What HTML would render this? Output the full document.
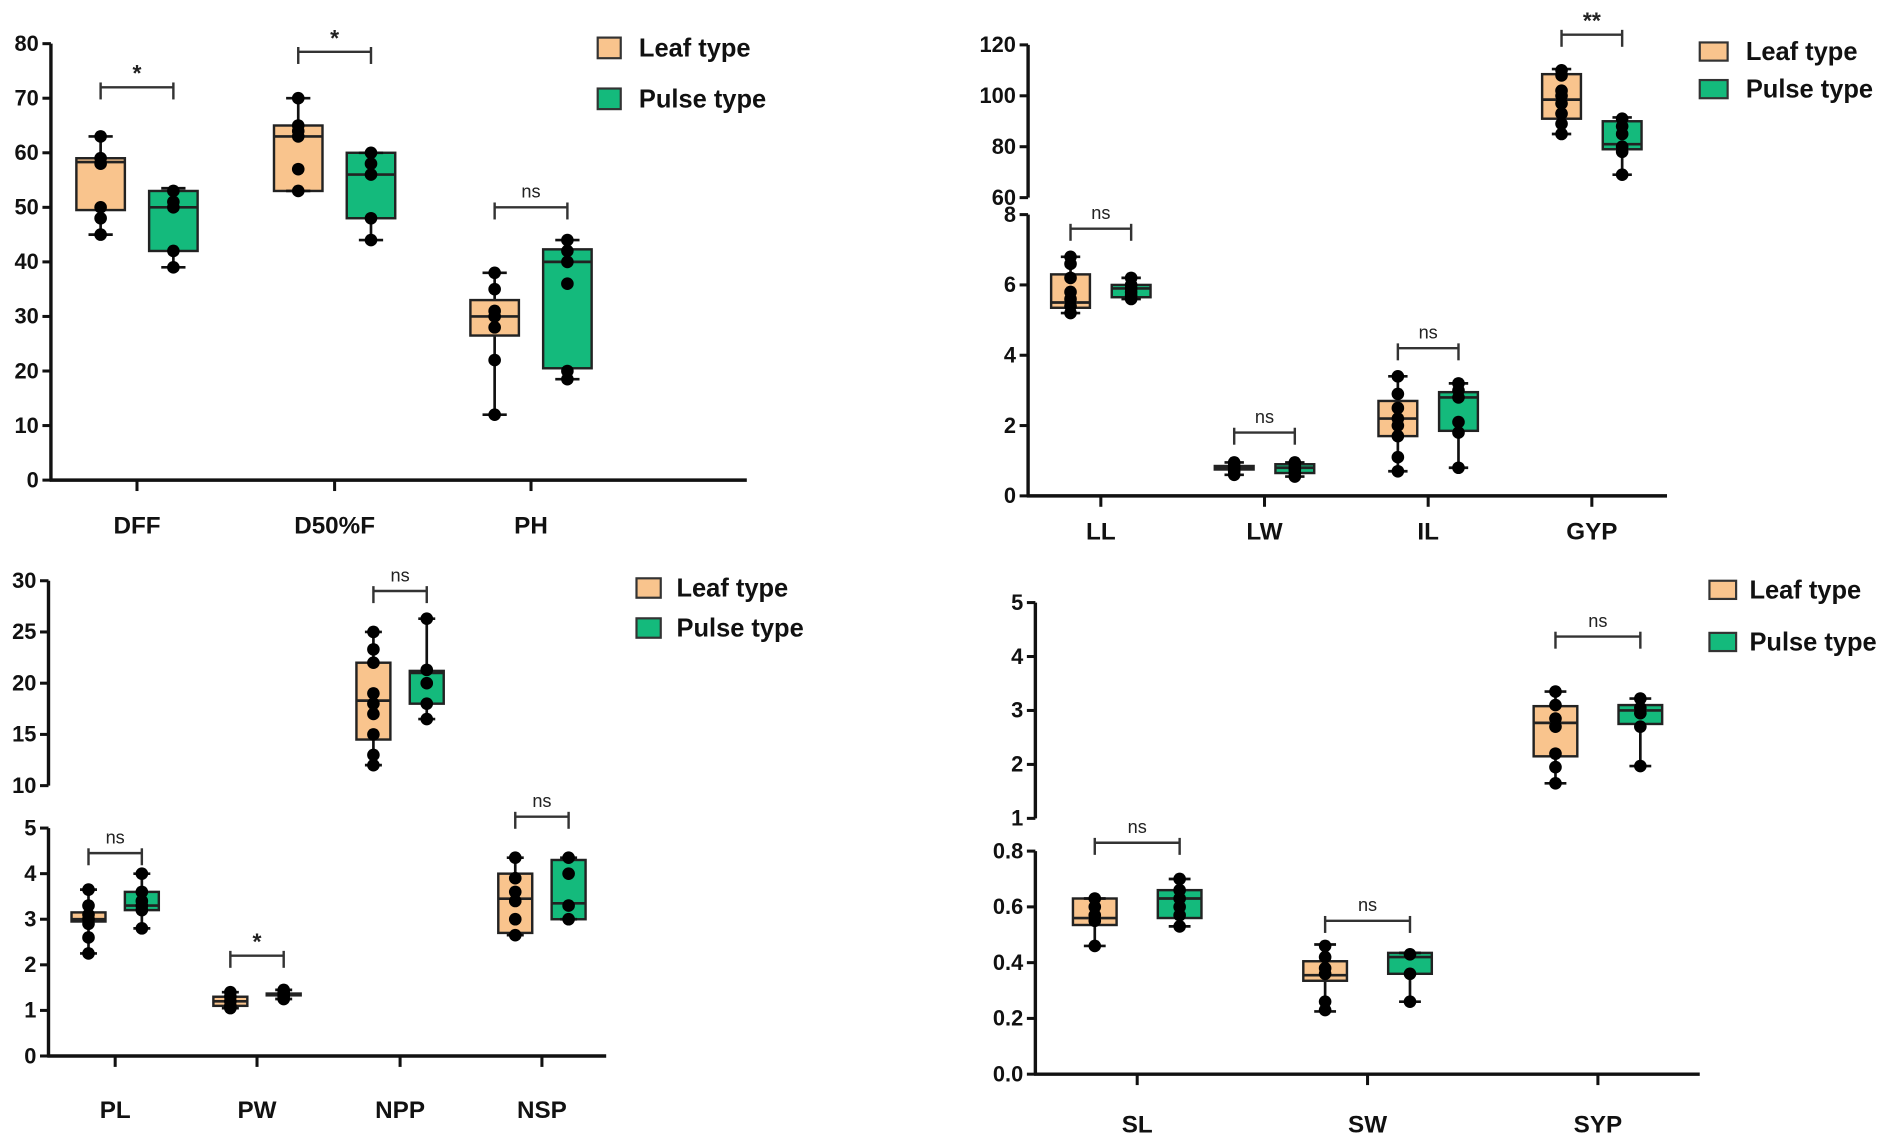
<!DOCTYPE html>
<html><head><meta charset="utf-8"><style>
html,body{margin:0;padding:0;background:#fff;}
svg{display:block;}
text{font-family:"Liberation Sans Narrow","Liberation Sans",sans-serif;}
</style></head><body>
<svg id="chart" width="1901" height="1145" viewBox="0 0 1568 944.4" xmlns="http://www.w3.org/2000/svg"></svg>
<script>
// ---------- Panel A data ----------
const aCats = ["DFF","D50%F","PH"];
const aLeafStats = [[45,49.5,58.3,59,63],[53,53,63,65,70],[12,26.5,30,33,38]];
const aPulseStats = [[39,42,50,53,53.5],[44,48,56,60,60],[18.5,20.5,40,42.3,44]];
const aLeafPts = [[63,59,58,50,48,45],[70,65,64,63,57,53],[38,35,31,30,28,22,12]];
const aPulsePts = [[53,51,50,42,39],[60,58,56,48,44],[44,42,40,36,20,18.5]];
const aBrackets = [72,78.5,50];
const aSig = ["*","*","ns"];
// ---------- Panel B data ----------
const bCats = ["LL","LW","IL","GYP"];
const bLeafStats = [[5.2,5.35,5.5,6.3,6.8],[0.6,0.75,0.8,0.85,0.95],[0.7,1.7,2.2,2.7,3.4],[85,91,98.5,108.5,110.5]];
const bPulseStats = [[5.6,5.65,5.9,6.0,6.2],[0.55,0.65,0.8,0.9,0.95],[0.8,1.85,2.8,2.95,3.2],[69,79,81,90,91.5]];
const bLeafPts = [[6.8,6.6,6.2,5.8,5.6,5.4,5.2],[0.95,0.85,0.8,0.7,0.6],[3.4,2.9,2.5,2.2,2.0,1.7,1.1,0.7],[110,108,102,100,97,93,89,85]];
const bPulsePts = [[6.2,6.0,5.9,5.8,5.7,5.6],[0.95,0.85,0.75,0.65,0.55],[3.2,3.0,2.8,2.1,1.8,0.8],[91,88,85,80,78,69]];
const bBrackets = [7.6,1.8,4.2,124];
const bSig = ["ns","ns","ns","**"];
// ---------- Panel C data ----------
const cCats = ["PL","PW","NPP","NSP"];
const cLeafStats = [[2.25,2.95,3.0,3.15,3.65],[1.05,1.1,1.2,1.3,1.4],[12,14.5,18.3,22,25],[2.65,2.7,3.45,4.0,4.35]];
const cPulseStats = [[2.8,3.2,3.3,3.6,4.0],[1.25,1.33,1.35,1.37,1.45],[16.5,18,21,21.2,26.3],[3.0,3.0,3.35,4.3,4.35]];
const cLeafPts = [[3.65,3.3,3.1,3.0,2.9,2.6,2.25],[1.4,1.3,1.2,1.1,1.05],[25,23.3,22,19,18,17,15,13,12],[4.35,3.9,3.6,3.4,3.0,2.65]];
const cPulsePts = [[4.0,3.6,3.4,3.3,3.2,2.8],[1.45,1.4,1.35,1.3,1.25],[26.3,21.3,20,18,16.5],[4.35,4.0,3.3,3.0]];
const cBrackets = [4.45,2.2,29,5.25];
const cSig = ["ns","*","ns","ns"];
// ---------- Panel D data ----------
const dCats = ["SL","SW","SYP"];
const dLeafStats = [[0.46,0.535,0.56,0.63,0.63],[0.225,0.335,0.355,0.405,0.465],[1.65,2.15,2.77,3.08,3.35]];
const dPulseStats = [[0.53,0.56,0.63,0.66,0.70],[0.26,0.36,0.42,0.435,0.435],[1.97,2.75,3.0,3.1,3.22]];
const dLeafPts = [[0.63,0.6,0.57,0.55,0.46],[0.46,0.42,0.38,0.36,0.26,0.23],[3.35,3.1,2.85,2.7,2.2,1.95,1.65]];
const dPulsePts = [[0.70,0.66,0.63,0.6,0.57,0.53],[0.43,0.36,0.26],[3.22,3.05,2.95,2.7,1.97]];
const dBrackets = [0.83,0.55,4.37];
const dSig = ["ns","ns","ns"];

const LEAF="#F9C48D", PULSE="#14BA7C";
const NS="http://www.w3.org/2000/svg";
const svg=document.getElementById('chart');
function mk(tag,attrs,parent){const e=document.createElementNS(NS,tag);for(const k in attrs)e.setAttribute(k,attrs[k]);(parent||svg).appendChild(e);return e;}

const panels=[
 {id:"a",cats:aCats,ls:aLeafStats,ps:aPulseStats,lp:aLeafPts,pp:aPulsePts,br:aBrackets,sig:aSig,
  ax:42,xEnd:616,catX:[113,276,438],off:30,hw:20,labY:440,
  segs:[{min:0,max:80,yMin:396,yMax:36,ticks:[0,10,20,30,40,50,60,70,80],fmt:v=>String(v)}],
  segOf:[0,0,0],legX:493,legY:[31,73],legW:19,legH:17,legTx:527},
 {id:"b",cats:bCats,ls:bLeafStats,ps:bPulseStats,lp:bLeafPts,pp:bPulsePts,br:bBrackets,sig:bSig,
  ax:848,xEnd:1375,catX:[908,1043,1178,1313],off:25,hw:16,labY:445,
  segs:[{min:0,max:8,yMin:409,yMax:177,ticks:[0,2,4,6,8],fmt:v=>String(v)},
        {min:60,max:120,yMin:163,yMax:37,ticks:[60,80,100,120],fmt:v=>String(v)}],
  segOf:[0,0,0,1],legX:1402,legY:[35,66],legW:23,legH:15,legTx:1440},
 {id:"c",cats:cCats,ls:cLeafStats,ps:cPulseStats,lp:cLeafPts,pp:cPulsePts,br:cBrackets,sig:cSig,
  ax:40,xEnd:500,catX:[95,212,330,447],off:22,hw:14,labY:922,
  segs:[{min:0,max:5,yMin:871,yMax:683,ticks:[0,1,2,3,4,5],fmt:v=>String(v)},
        {min:10,max:30,yMin:648,yMax:479,ticks:[10,15,20,25,30],fmt:v=>String(v)}],
  segOf:[0,0,1,0],legX:525,legY:[477,510],legW:20,legH:16,legTx:558},
 {id:"d",cats:dCats,ls:dLeafStats,ps:dPulseStats,lp:dLeafPts,pp:dPulsePts,br:dBrackets,sig:dSig,
  ax:854,xEnd:1402,catX:[938,1128,1318],off:35,hw:18,labY:934,
  segs:[{min:0,max:0.8,yMin:886,yMax:702,ticks:[0,0.2,0.4,0.6,0.8],fmt:v=>v.toFixed(1)},
        {min:1,max:5,yMin:675,yMax:497,ticks:[1,2,3,4,5],fmt:v=>String(v)}],
  segOf:[0,0,1],legX:1410,legY:[479,522],legW:22,legH:15,legTx:1443}
];

function yOf(seg,v){return seg.yMin+(v-seg.min)/(seg.max-seg.min)*(seg.yMax-seg.yMin);}

function drawBox(g,cx,hw,st,pts,color,seg,name){
  const bg=mk('g',{},g);
  
  
  const [mn,q1,md,q3,mx]=st;
  mk('line',{x1:cx,x2:cx,y1:yOf(seg,mx),y2:yOf(seg,mn),stroke:'#111','stroke-width':2.2},bg);
  mk('rect',{x:cx-hw,y:yOf(seg,q3),width:hw*2,height:Math.max(1.5,yOf(seg,q1)-yOf(seg,q3)),fill:color,stroke:'#222','stroke-width':2},bg);
  mk('line',{x1:cx-hw,x2:cx+hw,y1:yOf(seg,md),y2:yOf(seg,md),stroke:'#222','stroke-width':2.2},bg);
  [mn,mx].forEach(v=>mk('line',{x1:cx-hw*0.5,x2:cx+hw*0.5,y1:yOf(seg,v),y2:yOf(seg,v),stroke:'#111','stroke-width':2.2},bg));
  pts.forEach(v=>{
    const c=mk('circle',{cx:cx,cy:yOf(seg,v),r:5.2,fill:'#000'},bg);
    
    
  });
}

panels.forEach(p=>{
  const g=mk('g',{});
  
  
  p.segs.forEach((s,si)=>{
    const ax=mk('line',{x1:p.ax,x2:p.ax,y1:s.yMin+(si===0?1:0),y2:s.yMax,stroke:'#111','stroke-width':2.8},g);
    
    
    s.ticks.forEach(t=>{
      const y=yOf(s,t);
      mk('line',{x1:p.ax-7,x2:p.ax,y1:y,y2:y,stroke:'#111','stroke-width':2.5},g);
      const tx=mk('text',{x:p.ax-10,y:y+6,'text-anchor':'end','font-size':18,'font-weight':'bold',fill:'#111'},g);
      tx.textContent=s.fmt(t);
      
      
    });
  });
  const s0=p.segs[0];
  const xa=mk('line',{x1:p.ax-1,x2:p.xEnd,y1:s0.yMin,y2:s0.yMin,stroke:'#111','stroke-width':2.8},g);
  
  
  p.cats.forEach((c,i)=>{
    const cx=p.catX[i];
    mk('line',{x1:cx,x2:cx,y1:s0.yMin,y2:s0.yMin+9,stroke:'#111','stroke-width':2.5},g);
    const t=mk('text',{x:cx,y:p.labY,'text-anchor':'middle','font-size':20,'font-weight':'bold',fill:'#111'},g);
    t.textContent=c;
    
    
    const seg=p.segs[p.segOf[i]];
    drawBox(g,cx-p.off,p.hw,p.ls[i],p.lp[i],LEAF,seg,'box-leaf-'+c.toLowerCase());
    drawBox(g,cx+p.off,p.hw,p.ps[i],p.pp[i],PULSE,seg,'box-pulse-'+c.toLowerCase());
    const by=yOf(seg,p.br[i]);
    const bx1=cx-p.off, bx2=cx+p.off;
    const bg=mk('g',{},g);
    
    
    mk('line',{x1:bx1,x2:bx2,y1:by,y2:by,stroke:'#333','stroke-width':2},bg);
    mk('line',{x1:bx1,x2:bx1,y1:by-4,y2:by+10,stroke:'#333','stroke-width':2},bg);
    mk('line',{x1:bx2,x2:bx2,y1:by-4,y2:by+10,stroke:'#333','stroke-width':2},bg);
    const isNs=p.sig[i]==='ns';
    const st=mk('text',{x:cx,y:isNs?by-8:by-5,'text-anchor':'middle','font-size':isNs?15:19,'font-weight':isNs?'normal':'bold',fill:'#222'},bg);
    st.textContent=p.sig[i];
  });
  ['Leaf type','Pulse type'].forEach((lab,k)=>{
    const lg=mk('g',{},g);
    
    
    mk('rect',{x:p.legX,y:p.legY[k],width:p.legW,height:p.legH,fill:k===0?LEAF:PULSE,stroke:'#333','stroke-width':1.8},lg);
    const t=mk('text',{x:p.legTx,y:p.legY[k]+p.legH/2+7,'font-size':21,'font-weight':'bold',fill:'#111'},lg);
    t.textContent=lab;
  });
});
</script>
</body></html>
